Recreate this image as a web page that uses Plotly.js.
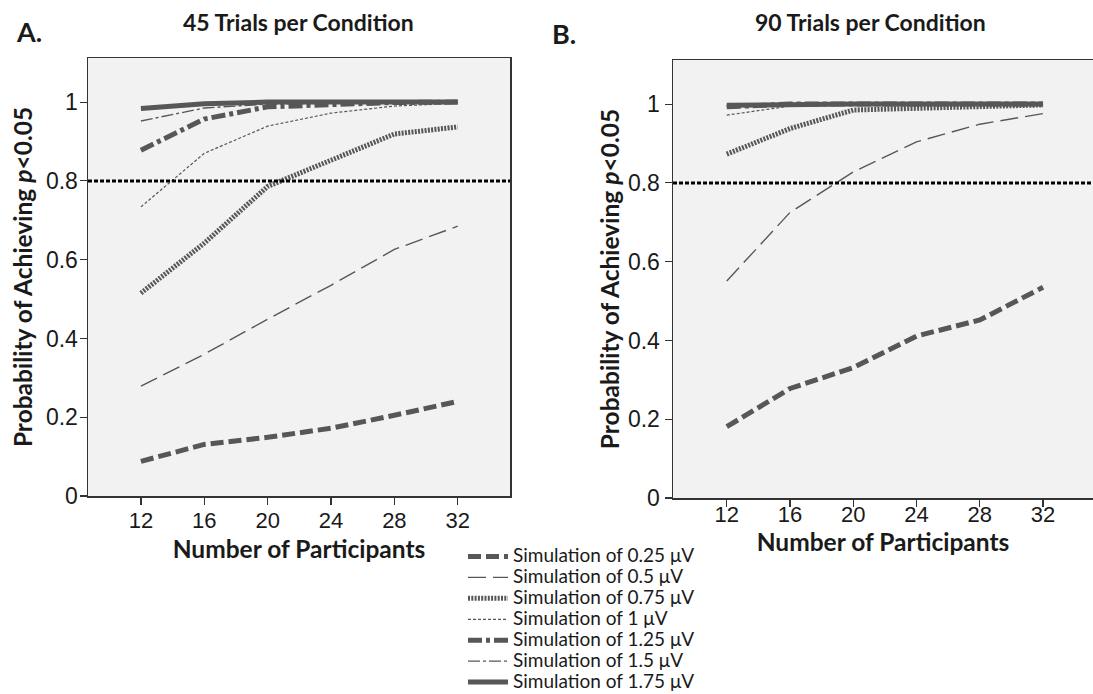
<!DOCTYPE html>
<html>
<head>
<meta charset="utf-8">
<script src="https://cdn.plot.ly/plotly-3.0.1.min.js"></script>
<style>html,body{margin:0;padding:0;background:#fff;}#chart{width:1093px;height:694px;}</style>
</head>
<body>
<div id="chart"></div>
<script>
// Number of participants (x)
const participants = [12, 16, 20, 24, 28, 32];
// Simulated effect sizes (legend labels)
const effectLabels = ["Simulation of 0.25 μV", "Simulation of 0.5 μV", "Simulation of 0.75 μV",
  "Simulation of 1 μV", "Simulation of 1.25 μV", "Simulation of 1.5 μV", "Simulation of 1.75 μV"];

// Panel A: 45 trials per condition
const a_025 = [0.088, 0.131, 0.149, 0.172, 0.205, 0.240];
const a_050 = [0.279, 0.360, 0.449, 0.535, 0.626, 0.685];
const a_075 = [0.515, 0.642, 0.786, 0.853, 0.919, 0.937];
const a_100 = [0.734, 0.870, 0.939, 0.972, 0.990, 0.997];
const a_125 = [0.878, 0.957, 0.988, 0.995, 0.999, 1.000];
const a_150 = [0.952, 0.985, 0.995, 0.998, 1.000, 1.000];
const a_175 = [0.984, 0.996, 1.000, 1.000, 1.000, 1.000];

// Panel B: 90 trials per condition
const b_025 = [0.181, 0.278, 0.331, 0.411, 0.452, 0.535];
const b_050 = [0.551, 0.725, 0.828, 0.904, 0.949, 0.976];
const b_075 = [0.873, 0.938, 0.985, 0.990, 0.994, 0.998];
const b_100 = [0.972, 0.995, 1.000, 1.000, 1.000, 1.000];
const b_125 = [0.993, 1.000, 1.000, 1.000, 1.000, 1.000];
const b_150 = [0.996, 1.000, 1.000, 1.000, 1.000, 1.000];
const b_175 = [0.997, 1.000, 1.000, 1.000, 1.000, 1.000];

const yTickVals = [0, 0.2, 0.4, 0.6, 0.8, 1];
const yTickText = ["0", "0.2", "0.4", "0.6", "0.8", "1"];
const threshold = 0.8;

const grey = "#575757";
const styles = [
  {width: 5, dash: "13px,5px"},
  {width: 1.4, dash: "18px,7px"},
  {width: 5, dash: "2px,1.3px"},
  {width: 1.2, dash: "3px,2px"},
  {width: 5, dash: "14px,4px,4px,4px"},
  {width: 1.4, dash: "12px,3px,3px,3px"},
  {width: 5, dash: "solid"}
];

const seriesA = [a_025, a_050, a_075, a_100, a_125, a_150, a_175];
const seriesB = [b_025, b_050, b_075, b_100, b_125, b_150, b_175];

const traces = [];
seriesA.forEach((ys, i) => {
  traces.push({x: participants, y: ys, type: "scatter", mode: "lines",
    name: '<span style="font-size:19px">' + effectLabels[i] + '</span>',
    showlegend: true, xaxis: "x", yaxis: "y",
    line: {color: grey, width: styles[i].width, dash: styles[i].dash}});
});
seriesB.forEach((ys, i) => {
  traces.push({x: participants, y: ys, type: "scatter", mode: "lines", name: effectLabels[i],
    showlegend: false, xaxis: "x2", yaxis: "y2",
    line: {color: grey, width: styles[i].width, dash: styles[i].dash}});
});

const W = 1093, H = 694;
const xTickFont = {family: "Liberation Sans, Arial, sans-serif", size: 22, color: "#1a1a1a"};
const yTickFont = {family: "Liberation Sans, Arial, sans-serif", size: 23, color: "#1a1a1a"};
const titleFont = {family: "Lato, sans-serif", size: 24.5, color: "#1a1a1a", weight: "bold"};

const xBase = {tickvals: participants, ticktext: participants.map(String), ticks: "outside", ticklen: 7,
  tickcolor: "#333", tickwidth: 1.2, showline: true, linecolor: "#333", linewidth: 1.5, showgrid: false,
  zeroline: false, tickfont: xTickFont, fixedrange: true};
const yBase = {tickvals: yTickVals, ticktext: yTickText, ticks: "outside", ticklen: 7,
  tickcolor: "#333", tickwidth: 1.2, showline: true, linecolor: "#333", linewidth: 1.5, showgrid: false,
  zeroline: false, tickfont: yTickFont, range: [0, 1.112], fixedrange: true};

const layout = {
  width: W, height: H, autosize: false,
  margin: {l: 0, r: 0, t: 0, b: 0, autoexpand: false},
  paper_bgcolor: "#ffffff", plot_bgcolor: "#f2f2f2",
  showlegend: true,
  legend: {x: 463 / W, y: 1 - 541 / H, xanchor: "left", yanchor: "top",
    font: {family: "Lato, sans-serif", size: 13.8, color: "#1a1a1a"}, bgcolor: "rgba(0,0,0,0)",
    tracegroupgap: 0, itemwidth: 40},
  xaxis: Object.assign({}, xBase, {domain: [88 / W, 510 / W], range: [8.66, 35.3], anchor: "y", mirror: true,
    ticklabelstandoff: -3,
    title: {text: "Number of Participants", font: titleFont, standoff: 9}}),
  yaxis: Object.assign({}, yBase, {domain: [1 - 496 / H, 1 - 58 / H], anchor: "x", mirror: true,
    ticklabelstandoff: -3,
    title: {text: "Probability of Achieving <i>p</i>&lt;0.05", font: titleFont, standoff: 6}}),
  xaxis2: Object.assign({}, xBase, {domain: [673 / W, 1], range: [8.6, 35.16], anchor: "y2", mirror: true,
    ticklabelstandoff: -11,
    title: {text: "Number of Participants", font: titleFont, standoff: 2}}),
  yaxis2: Object.assign({}, yBase, {domain: [1 - 498 / H, 1 - 60 / H], anchor: "x2", mirror: false,
    ticklabelstandoff: 0,
    title: {text: "Probability of Achieving <i>p</i>&lt;0.05", font: titleFont, standoff: 1}}),
  shapes: [
    {type: "line", xref: "x domain", yref: "y", x0: 0, x1: 1, y0: threshold, y1: threshold,
      line: {color: "#000", width: 3, dash: "4px,2px"}, layer: "above"},
    {type: "line", xref: "x2 domain", yref: "y2", x0: 0, x1: 1, y0: threshold, y1: threshold,
      line: {color: "#000", width: 3, dash: "4px,2px"}, layer: "above"}
  ],
  annotations: [
    {text: "<b>A.</b>", xref: "paper", yref: "paper", x: 14 / W, y: 1 - 31 / H, xanchor: "left", yanchor: "middle",
      showarrow: false, font: {family: "Lato, sans-serif", size: 27, color: "#1a1a1a"}},
    {text: "<b>45 Trials per Condition</b>", xref: "paper", yref: "paper", x: 298 / W, y: 1 - 22 / H,
      xanchor: "center", yanchor: "middle", showarrow: false, font: {family: "Lato, sans-serif", size: 23, color: "#1a1a1a"}},
    {text: "<b>B.</b>", xref: "paper", yref: "paper", x: 550 / W, y: 1 - 33 / H, xanchor: "left", yanchor: "middle",
      showarrow: false, font: {family: "Lato, sans-serif", size: 27, color: "#1a1a1a"}},
    {text: "<b>90 Trials per Condition</b>", xref: "paper", yref: "paper", x: 870 / W, y: 1 - 22 / H,
      xanchor: "center", yanchor: "middle", showarrow: false, font: {family: "Lato, sans-serif", size: 23, color: "#1a1a1a"}}
  ]
};

Plotly.newPlot("chart", traces, layout, {displayModeBar: false, staticPlot: true});
</script>
</body>
</html>
